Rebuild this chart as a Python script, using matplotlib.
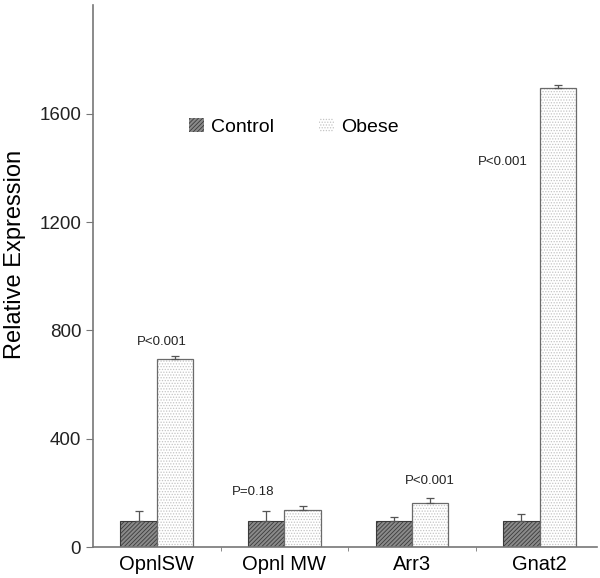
import numpy as np
import matplotlib
matplotlib.use('Agg')
import matplotlib.pyplot as plt
from matplotlib.patches import Patch

plt.rcParams['font.family'] = ['Liberation Sans', 'DejaVu Sans']
plt.rcParams['hatch.linewidth'] = 0.6

genes = ['OpnlSW', 'Opnl MW', 'Arr3', 'Gnat2']
control = [96, 97, 97, 96]
control_err = [38, 37, 15, 25]
obese = [693, 136, 164, 1695]
obese_err = [12, 15, 18, 12]
pvalues = ['P<0.001', 'P=0.18', 'P<0.001', 'P<0.001']

fig = plt.figure(figsize=(6, 5.78), dpi=100)
ax = fig.add_axes([0.155, 0.0536, 0.84, 0.937])

x = np.arange(len(genes))
w = 0.285

# control bars: dark diagonal hatch
ax.bar(x - w / 2, control, w, color='#8a8a8a', edgecolor='#3a3a3a', hatch='////////', linewidth=0.8)
ax.errorbar(x - w / 2, control, yerr=[[0] * 4, control_err], fmt='none',
            ecolor='#555555', elinewidth=0.9, capsize=3, capthick=0.9)

# obese bars: light dotted
ax.bar(x + w / 2, obese, w, color='white', edgecolor='#c4c4c4', hatch='......', linewidth=0)
ax.bar(x + w / 2, obese, w, fill=False, edgecolor='#6a6a6a', linewidth=0.9)
ax.errorbar(x + w / 2, obese, yerr=[[0] * 4, obese_err], fmt='none',
            ecolor='#555555', elinewidth=0.9, capsize=3, capthick=0.9)

# p-value labels
ax.text(x[0] + 0.04, 735, pvalues[0], ha='center', va='bottom', fontsize=9.5, color='#222222')
ax.text(x[1] - 0.245, 180, pvalues[1], ha='center', va='bottom', fontsize=9.5, color='#222222')
ax.text(x[2] + w / 2, 222, pvalues[2], ha='center', va='bottom', fontsize=9.5, color='#222222')
ax.text(x[3] - 0.09, 1400, pvalues[3], ha='right', va='bottom', fontsize=9.5, color='#222222')

# legend
handles = [Patch(facecolor='#8a8a8a', edgecolor='#3a3a3a', hatch='////////', linewidth=0),
           Patch(facecolor='white', edgecolor='#c4c4c4', hatch='......', linewidth=0)]
ax.legend(handles, ['Control', 'Obese'], ncol=2, frameon=False, fontsize=14,
          loc='center left', bbox_to_anchor=(0.155, 0.775),
          handlelength=0.8, handleheight=0.7, handletextpad=0.35, columnspacing=2.3)

ax.set_xlim(-0.5, 3.45)
ax.set_ylim(0, 2000)
ax.set_yticks([0, 400, 800, 1200, 1600])
ax.set_xticks(x)
ax.set_xticklabels(genes, fontsize=14.5)
ax.set_xticks([0.5, 1.5, 2.5], minor=True)
ax.tick_params(axis='x', which='major', length=0, pad=6)
ax.tick_params(axis='x', which='minor', length=3, color='#777777')
ax.tick_params(axis='y', labelsize=13.5, length=5, color='#777777', labelcolor='#222222')
ax.set_ylabel('Relative Expression', fontsize=17)
ax.yaxis.set_label_coords(-0.133, 0.54)

for s in ['top', 'right']:
    ax.spines[s].set_visible(False)
for s in ['left', 'bottom']:
    ax.spines[s].set_color('#777777')
    ax.spines[s].set_linewidth(1.2)

fig.savefig('out.png', dpi=100)
